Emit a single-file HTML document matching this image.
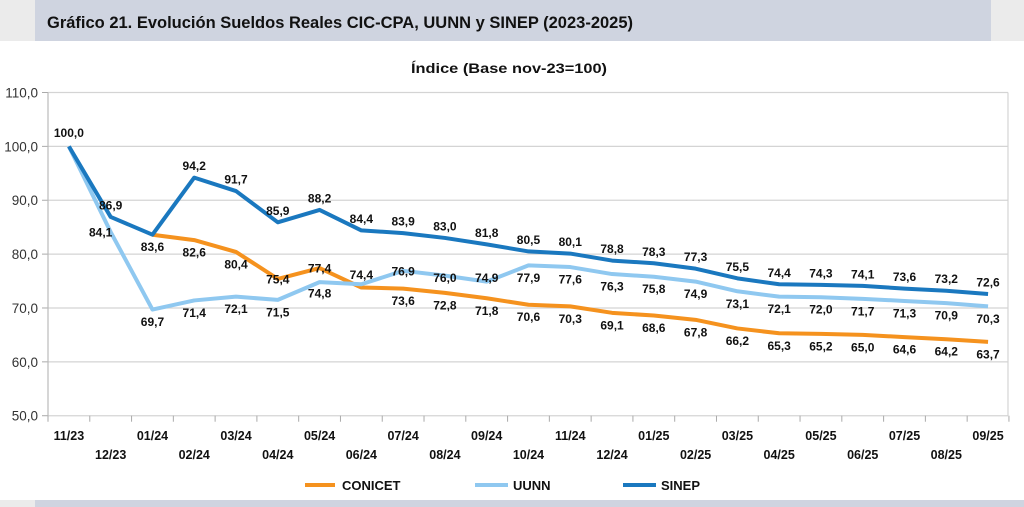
<!DOCTYPE html>
<html><head><meta charset="utf-8"><style>
html,body{margin:0;padding:0;width:1024px;height:507px;overflow:hidden;background:#fff}
svg{display:block}
</style></head><body>
<svg width="1024" height="507" viewBox="0 0 1024 507" xmlns="http://www.w3.org/2000/svg" font-family="Liberation Sans, Arial, sans-serif">
<rect x="0" y="0" width="35" height="41" fill="#ebebeb"/>
<rect x="991" y="0" width="33" height="41" fill="#ebebeb"/>
<rect x="35" y="0" width="956" height="41" fill="#cfd4e0"/>
<text x="47" y="28" font-size="17" font-weight="bold" fill="#111" textLength="586" lengthAdjust="spacingAndGlyphs">Gráfico 21. Evolución Sueldos Reales CIC-CPA, UUNN y SINEP (2023-2025)</text>
<rect x="0" y="500" width="35" height="7" fill="#ebebeb"/>
<rect x="35" y="500" width="989" height="7" fill="#cfd4e0"/>
<text x="411" y="73" font-size="14" font-weight="bold" fill="#111" textLength="196" lengthAdjust="spacingAndGlyphs">Índice (Base nov-23=100)</text>
<g id="grid"></g>
<g id="lines"></g>
<g id="labels"></g>
<g id="xl"></g>
<g font-size="13" font-weight="bold" fill="#111">
<line x1="305" y1="485" x2="335" y2="485" stroke="#f5921e" stroke-width="4"/>
<text x="342" y="490">CONICET</text>
<line x1="475" y1="485" x2="508" y2="485" stroke="#8fc8f0" stroke-width="4"/>
<text x="513" y="490">UUNN</text>
<line x1="623" y1="485" x2="656" y2="485" stroke="#1a78bf" stroke-width="4"/>
<text x="661" y="490">SINEP</text>
</g>
</svg>
<script>
var NS="http://www.w3.org/2000/svg";
function el(p,t,a,txt){var e=document.createElementNS(NS,t);for(var k in a)e.setAttribute(k,a[k]);if(txt!==undefined)e.textContent=txt;p.appendChild(e);return e;}
function Y(v){return 92.5+(110-v)*5.387;}
function X(i){return 68.9+41.78*i;}
var g=document.getElementById('grid');
for(var v=50;v<=110;v+=10){var y=Y(v);
 el(g,'line',{x1:48,y1:y,x2:1008,y2:y,stroke:'#d4d4d4','stroke-width':1.2});
 el(g,'line',{x1:42,y1:y,x2:48,y2:y,stroke:'#aaa','stroke-width':1});
 el(g,'text',{x:38,y:y+5,'font-size':13.5,'text-anchor':'end',fill:'#333'},v.toFixed(1).replace('.',','));}
el(g,'line',{x1:48,y1:92.5,x2:48,y2:Y(50),stroke:'#bbb','stroke-width':1.2});
el(g,'line',{x1:1008,y1:92.5,x2:1008,y2:Y(50),stroke:'#d4d4d4','stroke-width':1.2});
for(var i=0;i<=23;i++){var x=48+41.78*i;el(g,'line',{x1:x,y1:Y(50),x2:x,y2:Y(50)+6,stroke:'#aaa','stroke-width':1});}
var labs=['11/23','12/23','01/24','02/24','03/24','04/24','05/24','06/24','07/24','08/24','09/24','10/24','11/24','12/24','01/25','02/25','03/25','04/25','05/25','06/25','07/25','08/25','09/25'];
var xl=document.getElementById('xl');
labs.forEach(function(l,i){el(xl,'text',{x:X(i),y:(i%2?459:440),'font-size':12.5,'font-weight':'bold','text-anchor':'middle',fill:'#111'},l);});
var C=[100,86.9,83.6,82.6,80.4,75.4,77.4,73.8,73.6,72.8,71.8,70.6,70.3,69.1,68.6,67.8,66.2,65.3,65.2,65.0,64.6,64.2,63.7];
var U=[100,84.1,69.7,71.4,72.1,71.5,74.8,74.4,76.9,76.0,74.9,77.9,77.6,76.3,75.8,74.9,73.1,72.1,72.0,71.7,71.3,70.9,70.3];
var S=[100,86.9,83.6,94.2,91.7,85.9,88.2,84.4,83.9,83.0,81.8,80.5,80.1,78.8,78.3,77.3,75.5,74.4,74.3,74.1,73.6,73.2,72.6];
var L=document.getElementById('lines');
function poly(pts,c){el(L,'polyline',{points:pts,fill:'none',stroke:c,'stroke-width':4,'stroke-linejoin':'round'});}
function pts(d,start){return d.map(function(v,i){return i<start?null:X(i)+','+Y(v)}).filter(Boolean).join(' ');}
poly(pts(C,2),'#f5921e');
poly(pts(U,0),'#8fc8f0');poly(pts(S,0),'#1a78bf');
var G=document.getElementById('labels');
function lab(x,y,t){el(G,'text',{x:x,y:y+4.5,'font-size':12,'font-weight':'bold','text-anchor':'middle',fill:'#111'},t.toFixed(1).replace('.',','));}
S.forEach(function(v,i){var dy=-12;if(i==0)dy=-14;if(i==2)dy=12;lab(X(i),Y(v)+dy,v);});
C.forEach(function(v,i){if(i<3||i==7)return;var dy=12;if(i==5||i==6)dy=0;lab(X(i),Y(v)+dy,v);});
U.forEach(function(v,i){if(i==0)return;var dy=12,dx=0;
 if(i==1){dx=-10;dy=0;} if(i==7)dy=-10; if(i==8)dy=0; if(i==9)dy=2; if(i==10)dy=-4; if(i==6)dy=11;
 lab(X(i)+dx,Y(v)+dy,v);});
</script>
</body></html>
